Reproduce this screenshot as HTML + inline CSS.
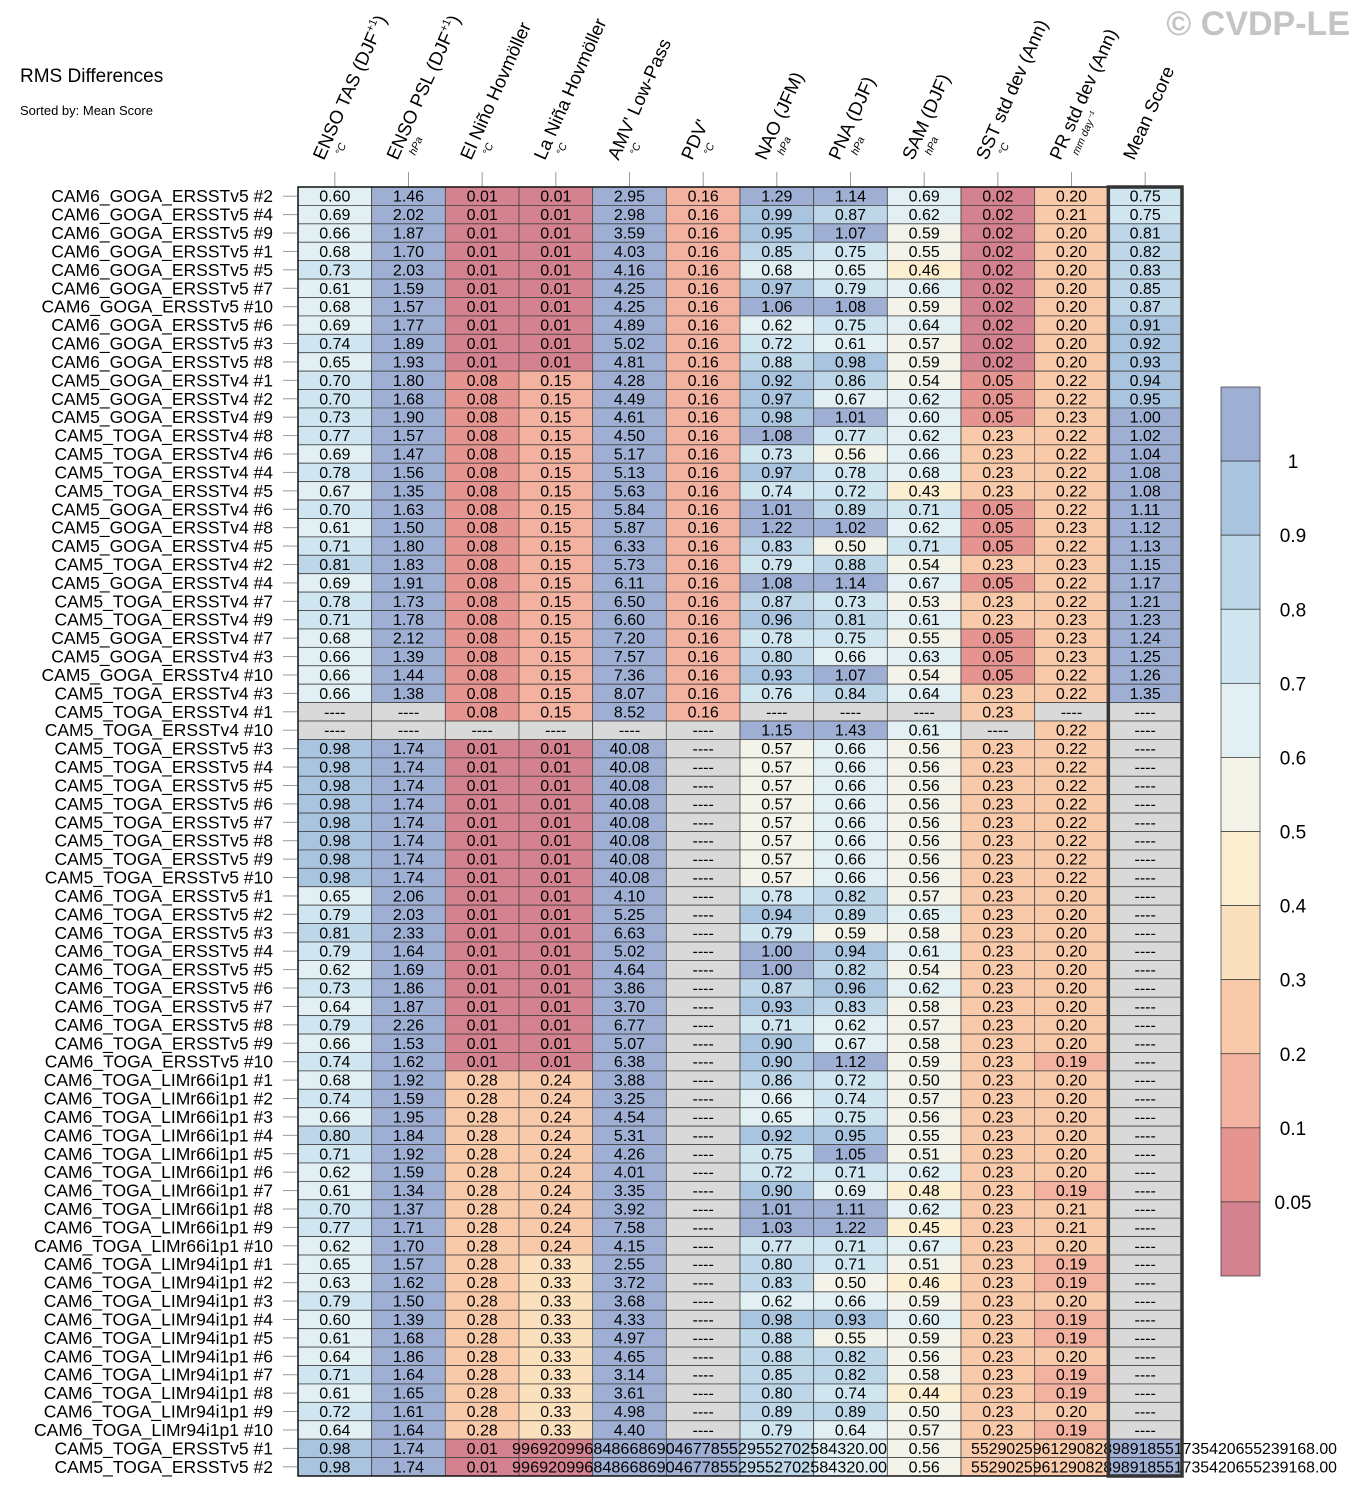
<!DOCTYPE html>
<html><head><meta charset="utf-8"><style>
html,body{margin:0;padding:0;background:#fff;}
svg{display:block;font-family:"Liberation Sans",sans-serif;}
</style></head><body>
<svg id="chart" width="1358" height="1498" viewBox="0 0 1358 1498" xmlns="http://www.w3.org/2000/svg">
<text x="20" y="82" font-size="19">RMS Differences</text>
<text x="20" y="115" font-size="13">Sorted by: Mean Score</text>
<text x="1350" y="35" font-size="34" font-weight="bold" fill="#c4c4c4" text-anchor="end">© CVDP-LE</text>
<g id="hdr"></g><g id="rowsg"></g><g id="cb"></g>
</svg>
<script>
const columns = ["ENSO TAS (DJF+1)","ENSO PSL (DJF+1)","El Niño Hovmöller","La Niña Hovmöller","AMV' Low-Pass","PDV'","NAO (JFM)","PNA (DJF)","SAM (DJF)","SST std dev (Ann)","PR std dev (Ann)","Mean Score"];
const units = ["°C","hPa","°C","°C","°C","°C","hPa","hPa","hPa","°C","mm day⁻¹",""];
const rowLabels = ["CAM6_GOGA_ERSSTv5 #2","CAM6_GOGA_ERSSTv5 #4","CAM6_GOGA_ERSSTv5 #9","CAM6_GOGA_ERSSTv5 #1","CAM6_GOGA_ERSSTv5 #5","CAM6_GOGA_ERSSTv5 #7","CAM6_GOGA_ERSSTv5 #10","CAM6_GOGA_ERSSTv5 #6","CAM6_GOGA_ERSSTv5 #3","CAM6_GOGA_ERSSTv5 #8",
"CAM5_GOGA_ERSSTv4 #1","CAM5_GOGA_ERSSTv4 #2","CAM5_GOGA_ERSSTv4 #9","CAM5_TOGA_ERSSTv4 #8","CAM5_TOGA_ERSSTv4 #6","CAM5_TOGA_ERSSTv4 #4","CAM5_TOGA_ERSSTv4 #5","CAM5_GOGA_ERSSTv4 #6","CAM5_GOGA_ERSSTv4 #8","CAM5_GOGA_ERSSTv4 #5","CAM5_TOGA_ERSSTv4 #2","CAM5_GOGA_ERSSTv4 #4","CAM5_TOGA_ERSSTv4 #7","CAM5_TOGA_ERSSTv4 #9","CAM5_GOGA_ERSSTv4 #7","CAM5_GOGA_ERSSTv4 #3","CAM5_GOGA_ERSSTv4 #10","CAM5_TOGA_ERSSTv4 #3","CAM5_TOGA_ERSSTv4 #1","CAM5_TOGA_ERSSTv4 #10",
"CAM5_TOGA_ERSSTv5 #3","CAM5_TOGA_ERSSTv5 #4","CAM5_TOGA_ERSSTv5 #5","CAM5_TOGA_ERSSTv5 #6","CAM5_TOGA_ERSSTv5 #7","CAM5_TOGA_ERSSTv5 #8","CAM5_TOGA_ERSSTv5 #9","CAM5_TOGA_ERSSTv5 #10",
"CAM6_TOGA_ERSSTv5 #1","CAM6_TOGA_ERSSTv5 #2","CAM6_TOGA_ERSSTv5 #3","CAM6_TOGA_ERSSTv5 #4","CAM6_TOGA_ERSSTv5 #5","CAM6_TOGA_ERSSTv5 #6","CAM6_TOGA_ERSSTv5 #7","CAM6_TOGA_ERSSTv5 #8","CAM6_TOGA_ERSSTv5 #9","CAM6_TOGA_ERSSTv5 #10",
"CAM6_TOGA_LIMr66i1p1 #1","CAM6_TOGA_LIMr66i1p1 #2","CAM6_TOGA_LIMr66i1p1 #3","CAM6_TOGA_LIMr66i1p1 #4","CAM6_TOGA_LIMr66i1p1 #5","CAM6_TOGA_LIMr66i1p1 #6","CAM6_TOGA_LIMr66i1p1 #7","CAM6_TOGA_LIMr66i1p1 #8","CAM6_TOGA_LIMr66i1p1 #9","CAM6_TOGA_LIMr66i1p1 #10",
"CAM6_TOGA_LIMr94i1p1 #1","CAM6_TOGA_LIMr94i1p1 #2","CAM6_TOGA_LIMr94i1p1 #3","CAM6_TOGA_LIMr94i1p1 #4","CAM6_TOGA_LIMr94i1p1 #5","CAM6_TOGA_LIMr94i1p1 #6","CAM6_TOGA_LIMr94i1p1 #7","CAM6_TOGA_LIMr94i1p1 #8","CAM6_TOGA_LIMr94i1p1 #9","CAM6_TOGA_LIMr94i1p1 #10",
"CAM5_TOGA_ERSSTv5 #1","CAM5_TOGA_ERSSTv5 #2"];
const n = null;
const values = [
[0.60,1.46,0.01,0.01,2.95,0.16,1.29,1.14,0.69,0.02,0.20,0.75],
[0.69,2.02,0.01,0.01,2.98,0.16,0.99,0.87,0.62,0.02,0.21,0.75],
[0.66,1.87,0.01,0.01,3.59,0.16,0.95,1.07,0.59,0.02,0.20,0.81],
[0.68,1.70,0.01,0.01,4.03,0.16,0.85,0.75,0.55,0.02,0.20,0.82],
[0.73,2.03,0.01,0.01,4.16,0.16,0.68,0.65,0.46,0.02,0.20,0.83],
[0.61,1.59,0.01,0.01,4.25,0.16,0.97,0.79,0.66,0.02,0.20,0.85],
[0.68,1.57,0.01,0.01,4.25,0.16,1.06,1.08,0.59,0.02,0.20,0.87],
[0.69,1.77,0.01,0.01,4.89,0.16,0.62,0.75,0.64,0.02,0.20,0.91],
[0.74,1.89,0.01,0.01,5.02,0.16,0.72,0.61,0.57,0.02,0.20,0.92],
[0.65,1.93,0.01,0.01,4.81,0.16,0.88,0.98,0.59,0.02,0.20,0.93],
[0.70,1.80,0.08,0.15,4.28,0.16,0.92,0.86,0.54,0.05,0.22,0.94],
[0.70,1.68,0.08,0.15,4.49,0.16,0.97,0.67,0.62,0.05,0.22,0.95],
[0.73,1.90,0.08,0.15,4.61,0.16,0.98,1.01,0.60,0.05,0.23,1.00],
[0.77,1.57,0.08,0.15,4.50,0.16,1.08,0.77,0.62,0.23,0.22,1.02],
[0.69,1.47,0.08,0.15,5.17,0.16,0.73,0.56,0.66,0.23,0.22,1.04],
[0.78,1.56,0.08,0.15,5.13,0.16,0.97,0.78,0.68,0.23,0.22,1.08],
[0.67,1.35,0.08,0.15,5.63,0.16,0.74,0.72,0.43,0.23,0.22,1.08],
[0.70,1.63,0.08,0.15,5.84,0.16,1.01,0.89,0.71,0.05,0.22,1.11],
[0.61,1.50,0.08,0.15,5.87,0.16,1.22,1.02,0.62,0.05,0.23,1.12],
[0.71,1.80,0.08,0.15,6.33,0.16,0.83,0.50,0.71,0.05,0.22,1.13],
[0.81,1.83,0.08,0.15,5.73,0.16,0.79,0.88,0.54,0.23,0.23,1.15],
[0.69,1.91,0.08,0.15,6.11,0.16,1.08,1.14,0.67,0.05,0.22,1.17],
[0.78,1.73,0.08,0.15,6.50,0.16,0.87,0.73,0.53,0.23,0.22,1.21],
[0.71,1.78,0.08,0.15,6.60,0.16,0.96,0.81,0.61,0.23,0.23,1.23],
[0.68,2.12,0.08,0.15,7.20,0.16,0.78,0.75,0.55,0.05,0.23,1.24],
[0.66,1.39,0.08,0.15,7.57,0.16,0.80,0.66,0.63,0.05,0.23,1.25],
[0.66,1.44,0.08,0.15,7.36,0.16,0.93,1.07,0.54,0.05,0.22,1.26],
[0.66,1.38,0.08,0.15,8.07,0.16,0.76,0.84,0.64,0.23,0.22,1.35],
[n,n,0.08,0.15,8.52,0.16,n,n,n,0.23,n,n],
[n,n,n,n,n,n,1.15,1.43,0.61,n,0.22,n],
[0.98,1.74,0.01,0.01,40.08,n,0.57,0.66,0.56,0.23,0.22,n],
[0.98,1.74,0.01,0.01,40.08,n,0.57,0.66,0.56,0.23,0.22,n],
[0.98,1.74,0.01,0.01,40.08,n,0.57,0.66,0.56,0.23,0.22,n],
[0.98,1.74,0.01,0.01,40.08,n,0.57,0.66,0.56,0.23,0.22,n],
[0.98,1.74,0.01,0.01,40.08,n,0.57,0.66,0.56,0.23,0.22,n],
[0.98,1.74,0.01,0.01,40.08,n,0.57,0.66,0.56,0.23,0.22,n],
[0.98,1.74,0.01,0.01,40.08,n,0.57,0.66,0.56,0.23,0.22,n],
[0.98,1.74,0.01,0.01,40.08,n,0.57,0.66,0.56,0.23,0.22,n],
[0.65,2.06,0.01,0.01,4.10,n,0.78,0.82,0.57,0.23,0.20,n],
[0.79,2.03,0.01,0.01,5.25,n,0.94,0.89,0.65,0.23,0.20,n],
[0.81,2.33,0.01,0.01,6.63,n,0.79,0.59,0.58,0.23,0.20,n],
[0.79,1.64,0.01,0.01,5.02,n,1.00,0.94,0.61,0.23,0.20,n],
[0.62,1.69,0.01,0.01,4.64,n,1.00,0.82,0.54,0.23,0.20,n],
[0.73,1.86,0.01,0.01,3.86,n,0.87,0.96,0.62,0.23,0.20,n],
[0.64,1.87,0.01,0.01,3.70,n,0.93,0.83,0.58,0.23,0.20,n],
[0.79,2.26,0.01,0.01,6.77,n,0.71,0.62,0.57,0.23,0.20,n],
[0.66,1.53,0.01,0.01,5.07,n,0.90,0.67,0.58,0.23,0.20,n],
[0.74,1.62,0.01,0.01,6.38,n,0.90,1.12,0.59,0.23,0.19,n],
[0.68,1.92,0.28,0.24,3.88,n,0.86,0.72,0.50,0.23,0.20,n],
[0.74,1.59,0.28,0.24,3.25,n,0.66,0.74,0.57,0.23,0.20,n],
[0.66,1.95,0.28,0.24,4.54,n,0.65,0.75,0.56,0.23,0.20,n],
[0.80,1.84,0.28,0.24,5.31,n,0.92,0.95,0.55,0.23,0.20,n],
[0.71,1.92,0.28,0.24,4.26,n,0.75,1.05,0.51,0.23,0.20,n],
[0.62,1.59,0.28,0.24,4.01,n,0.72,0.71,0.62,0.23,0.20,n],
[0.61,1.34,0.28,0.24,3.35,n,0.90,0.69,0.48,0.23,0.19,n],
[0.70,1.37,0.28,0.24,3.92,n,1.01,1.11,0.62,0.23,0.21,n],
[0.77,1.71,0.28,0.24,7.58,n,1.03,1.22,0.45,0.23,0.21,n],
[0.62,1.70,0.28,0.24,4.15,n,0.77,0.71,0.67,0.23,0.20,n],
[0.65,1.57,0.28,0.33,2.55,n,0.80,0.71,0.51,0.23,0.19,n],
[0.63,1.62,0.28,0.33,3.72,n,0.83,0.50,0.46,0.23,0.19,n],
[0.79,1.50,0.28,0.33,3.68,n,0.62,0.66,0.59,0.23,0.20,n],
[0.60,1.39,0.28,0.33,4.33,n,0.98,0.93,0.60,0.23,0.19,n],
[0.61,1.68,0.28,0.33,4.97,n,0.88,0.55,0.59,0.23,0.19,n],
[0.64,1.86,0.28,0.33,4.65,n,0.88,0.82,0.56,0.23,0.20,n],
[0.71,1.64,0.28,0.33,3.14,n,0.85,0.82,0.58,0.23,0.19,n],
[0.61,1.65,0.28,0.33,3.61,n,0.80,0.74,0.44,0.23,0.19,n],
[0.72,1.61,0.28,0.33,4.98,n,0.89,0.89,0.50,0.23,0.20,n],
[0.64,1.64,0.28,0.33,4.40,n,0.79,0.64,0.57,0.23,0.19,n],
[0.98,1.74,0.01,0.01,40.08,40.08,0.80,0.66,0.56,0.23,0.22,1.50],
[0.98,1.74,0.01,0.01,40.08,40.08,0.80,0.66,0.56,0.23,0.22,1.50]
];
const cbTicks = [1,0.9,0.8,0.7,0.6,0.5,0.4,0.3,0.2,0.1,0.05];
const cbColors = ["#9eafd3","#a9c4de","#bdd7e9","#cfe5ef","#e2f0f4","#f3f3e9","#fcefd1","#fbe0bd","#f9caa9","#f3b1a0","#e69490","#d48190"];

const NS="http://www.w3.org/2000/svg";
function mk(tag,attrs,parent,txt){const e=document.createElementNS(NS,tag);for(const k in attrs)e.setAttribute(k,attrs[k]);if(txt!=null)e.textContent=txt;parent.appendChild(e);return e;}
const X0=298, CW=(1182-298)/12, Y0=187, RH=(1476-187)/70;
const colX=i=>X0+i*CW, rowY=j=>Y0+j*RH;
function colorFor(v){if(v==null)return "#d9d9d9";for(let k=0;k<cbTicks.length;k++){if(v>=cbTicks[k])return cbColors[k];}return cbColors[cbColors.length-1];}

const hdr=document.getElementById('hdr');
columns.forEach((c,i)=>{
  const cx=colX(i)+CW/2;
  const t=mk('line',{x1:cx,y1:172,x2:cx,y2:187,stroke:'#999','stroke-width':1},hdr);
  
  
  const bx=cx-11, by=161;
  const g=mk('g',{transform:`rotate(-66 ${bx} ${by})`},hdr);
  
  
  const tx=mk('text',{x:bx,y:by,'font-size':18.5},g);
  const m=c.match(/^(.*)\(DJF\+1\)$/);
  if(m){tx.textContent=m[1]+'(DJF';mk('tspan',{'font-size':11,dy:-8},tx,'+1');mk('tspan',{dy:8},tx,')');}
  else tx.textContent=c;
  if(units[i]){const u=mk('text',{x:bx+12,y:by+14,'font-size':10.5,'font-style':'italic'},g,units[i]);
    
    }
});

const rg=document.getElementById('rowsg');
rowLabels.forEach((lab,j)=>{
  const y=rowY(j);
  const l=mk('text',{x:273,y:y+RH/2+6,'font-size':17.5,'text-anchor':'end'},rg,lab);
  
  
  mk('line',{x1:283,y1:y+RH/2,x2:297,y2:y+RH/2,stroke:'#999','stroke-width':1},rg);
  const special=j>=68;
  values[j].forEach((v,i)=>{
    const r=mk('rect',{x:colX(i),y:y,width:CW,height:RH,fill:colorFor(v),stroke:'#444','stroke-width':0.8},rg);
    
    
  });
  if(!special){
    values[j].forEach((v,i)=>{
      const t=mk('text',{x:colX(i)+CW/2,y:y+RH/2+5.5,'font-size':16,'text-anchor':'middle'},rg,v==null?'----':v.toFixed(2));
      
      
    });
  } else {
    [0,1,2].forEach(i=>{const v=values[j][i];
      const t=mk('text',{x:colX(i)+CW/2,y:y+RH/2+5.5,'font-size':16,'text-anchor':'middle'},rg,v.toFixed(2));
      
      });
    const a=mk('text',{x:colX(3)-7,y:y+RH/2+5.5,'font-size':16,textLength:375,lengthAdjust:'spacingAndGlyphs'},rg,'996920996848668690467785529552702584320.00');
    
    
    const b=mk('text',{x:colX(8)+CW/2,y:y+RH/2+5.5,'font-size':16,'text-anchor':'middle'},rg,values[j][8].toFixed(2));
    
    
    const c=mk('text',{x:colX(9)+10,y:y+RH/2+5.5,'font-size':16,textLength:366,lengthAdjust:'spacingAndGlyphs'},rg,'552902596129082898918551735420655239168.00');
    
    
  }
});
mk('rect',{x:X0,y:Y0,width:CW*12,height:RH*70,fill:'none',stroke:'#111','stroke-width':1.5},rg);
const mb=mk('rect',{x:colX(11),y:Y0,width:CW,height:RH*70,fill:'none',stroke:'#333','stroke-width':3.5},rg);



const cb=document.getElementById('cb');
const CBX=1221,CBY=387,CBW=39,SH=(1276-387)/12;
cbColors.forEach((c,k)=>{
  const r=mk('rect',{x:CBX,y:CBY+k*SH,width:CBW,height:SH,fill:c,stroke:'#333','stroke-width':0.7},cb);
  
  
});
cbTicks.forEach((v,k)=>{
  const t=mk('text',{x:1293,y:CBY+(k+1)*SH+7,'font-size':19,'text-anchor':'middle'},cb,String(v));
  
  
});
</script>
</body></html>
